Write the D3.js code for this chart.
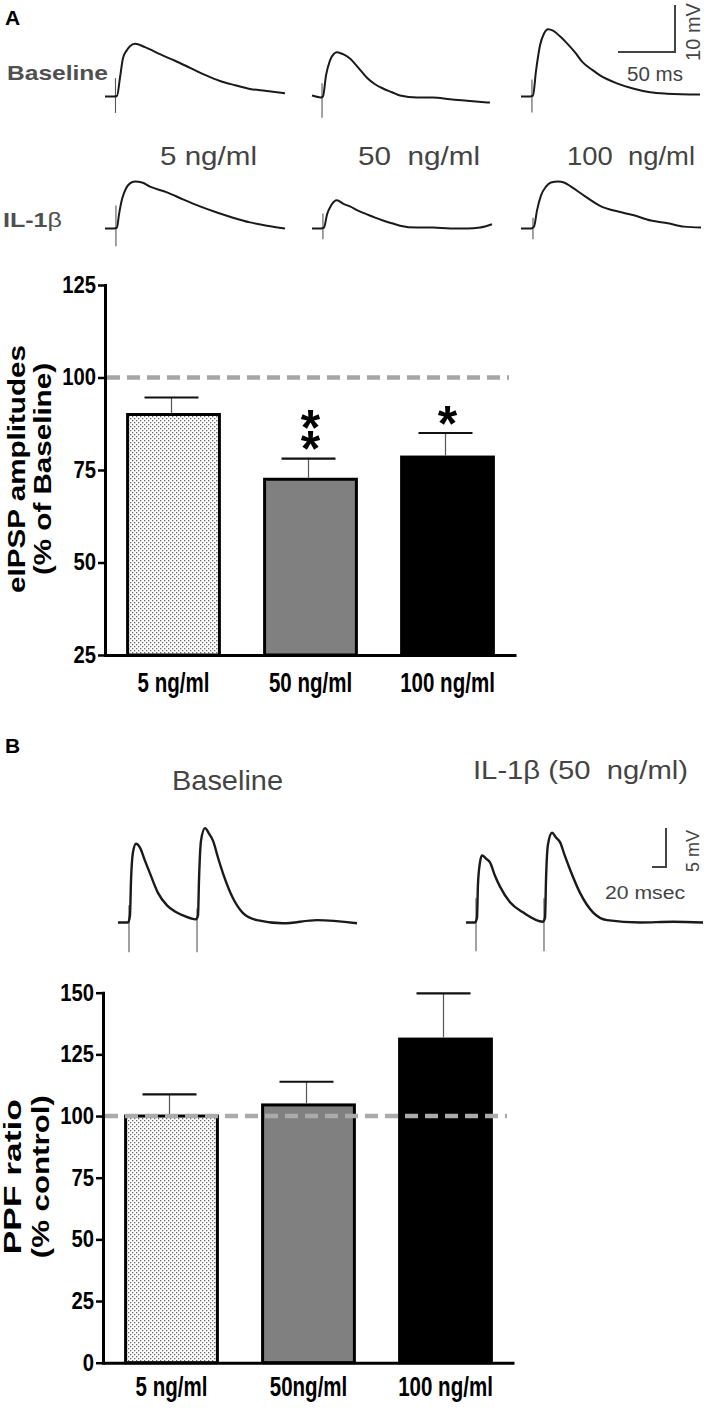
<!DOCTYPE html>
<html><head><meta charset="utf-8">
<script src="https://cdn.jsdelivr.net/npm/d3@7"></script>
<style>
body{margin:0;background:#fff;}
svg{display:block;}
text{font-family:"Liberation Sans",Arial,Helvetica,sans-serif;}
</style></head><body>
<svg id="chart" width="707" height="1410"></svg>
<script>
// ---------------- data ----------------
const categoriesA = ["5 ng/ml", "50 ng/ml", "100 ng/ml"];
const meansA = [90, 72.5, 78.5];
const semA = [4.6, 5.6, 6.5];
const sigA = ["", "**", "*"];
const ticksA = [25, 50, 75, 100, 125];

const categoriesB = ["5 ng/ml", "50ng/ml", "100 ng/ml"];
const meansB = [100, 104.5, 131.2];
const semB = [8.8, 9.4, 18.5];
const ticksB = [0, 25, 50, 75, 100, 125, 150];

const referenceLevel = 100;
const concLabelsA = ["5 ng/ml", "50  ng/ml", "100  ng/ml"];

// example traces: [time (ms), voltage (mV)] relative to trace start / baseline
const traceBase5 = [[0,0],[7.9,0],[10.5,0.1],[13.2,4.1],[15.8,8.2],[19.3,9.9],[21.9,10.7],[26.3,11.2],[35.1,10.5],[48.2,9.0],[61.4,7.6],[74.6,6.1],[87.7,4.6],[100.9,3.3],[114.0,2.4],[127.2,1.6],[140.4,1.2],[157.9,0.7]];
const traceBase50 = [[0,0.2],[7.9,-0.2],[9.6,0],[12.3,4.5],[15.8,7.7],[19.3,9.1],[21.9,9.4],[27.2,9.0],[33.3,8.1],[40.4,6.2],[48.2,4.0],[55.3,2.6],[62.3,1.7],[70.2,0.9],[77.2,0.2],[92.1,-0.2],[106.1,-0.2],[121.1,-0.6],[136.0,-0.9],[156.1,-1.3]];
const traceBase100 = [[0,0],[7.9,0],[10.5,0.2],[13.2,5.5],[16.7,10.9],[20.2,13.4],[23.7,14.3],[28.1,14.0],[34.2,12.8],[40.4,11.3],[47.4,9.4],[54.4,7.2],[62.3,5.7],[69.3,4.5],[84.2,2.8],[98.2,1.7],[113.2,0.9],[128.1,0.6],[157.0,0.4]];
const traceIL5 = [[0,0],[7.9,0],[10.5,0.2],[12.3,3.0],[14.9,6.2],[18.4,8.5],[21.9,9.6],[26.3,10.0],[32.5,9.8],[39.5,8.9],[54.4,7.7],[68.4,6.2],[83.3,4.7],[98.2,3.4],[112.3,2.3],[127.2,1.3],[142.1,0.6],[157.9,0]];
const traceIL50 = [[0,0],[7.9,0],[10.5,0.2],[13.2,3.0],[16.7,4.9],[21.9,6.0],[27.2,5.3],[33.3,4.7],[40.4,3.8],[48.2,3.0],[55.3,2.3],[62.3,1.7],[70.2,1.1],[77.2,0.6],[92.1,0.2],[106.1,0.2],[121.1,0],[136.0,0],[147.4,0.2],[157.9,0.9]];
const traceIL100 = [[0,0],[8.8,0],[11.4,0.4],[14.0,3.8],[17.5,7.0],[21.9,8.9],[26.3,9.8],[32.5,10.0],[37.7,9.8],[43.9,8.9],[55.3,7.0],[70.2,4.7],[85.1,3.6],[99.1,2.8],[114.0,1.7],[128.9,1.1],[143.0,0.4],[157.9,0.2]];
// stimulus artifacts: [time ms, up mV, down mV]
const artBase5 = [[9.2,3.9,-3.5]];
const artBase50 = [[8.8,2.8,-4.5]];
const artBase100 = [[9.6,3.6,-3.4]];
const artIL5 = [[9.6,4.9,-3.8]];
const artIL50 = [[9.6,3.2,-2.3]];
const artIL100 = [[10.5,2.3,-2.3]];

const tracePPFBase = [[0,0],[14.3,0],[17.1,0.9],[18.6,5.4],[21.4,9.0],[25.7,10.1],[31.4,9.6],[38.6,7.9],[45.7,6.3],[57.1,3.8],[70.0,2.2],[81.4,1.4],[92.9,0.9],[111.4,0.4],[114.3,0.9],[115.7,5.4],[118.6,10.5],[124.3,12.1],[130,11.4],[135.7,10.5],[142.9,8.3],[150,6.3],[164.3,3.1],[178.6,1.2],[198.6,0.3],[235.7,-0.1],[284.3,0.3],[341.4,-0.1]];
const tracePPFIL = [[0,0],[12.9,0],[15.7,0.6],[17.1,4.9],[20,7.7],[22.9,8.6],[28.6,8.2],[34.3,7.7],[41.4,6.0],[48.6,4.6],[62.9,2.6],[81.4,1.3],[110,0.1],[112.9,0.6],[114.3,5.5],[117.1,10],[122.9,11.5],[128.6,10.9],[134.3,10.3],[141.4,8.5],[148.6,6.8],[162.9,3.8],[181.4,1.3],[201.4,0.3],[248.6,0],[295.7,0.1],[338.6,0]];
const artPPFBase = [[15.7,2.2,-3.8],[112.9,1.8,-3.8]];
const artPPFIL = [[14.3,3.1,-3.7],[111.4,3.1,-3.7]];

const scaleBarA = {ms: 50, mV: 10, msLabel: "50 ms", mVLabel: "10 mV"};
const scaleBarB = {ms: 20, mV: 5, msLabel: "20 msec", mVLabel: "5 mV"};

// ---------------- drawing ----------------
const svg = d3.select("#chart");
const FONT = '"Liberation Sans",Arial,Helvetica,sans-serif';

function fitFactor(sel, f) {
  sel.each(function () {
    const w = this.getComputedTextLength();
    this.setAttribute("textLength", w * f);
    this.setAttribute("lengthAdjust", "spacingAndGlyphs");
  });
}
function fitWidth(sel, w) {
  sel.attr("textLength", w).attr("lengthAdjust", "spacingAndGlyphs");
}

const defs = svg.append("defs");
const pat = defs.append("pattern").attr("id", "dots")
  .attr("width", 4).attr("height", 4).attr("patternUnits", "userSpaceOnUse");
pat.append("rect").attr("width", 4).attr("height", 4).attr("fill", "#fff");
pat.append("rect").attr("x", 0).attr("y", 0).attr("width", 1.3).attr("height", 1.3).attr("fill", "#6a6a6a");
pat.append("rect").attr("x", 2).attr("y", 2).attr("width", 1.3).attr("height", 1.3).attr("fill", "#6a6a6a");
const barFills = ["url(#dots)", "#808080", "#000000"];

// ---- traces ----
function drawTrace(pts, arts, x0, y0, kx, ky, sw) {
  const x = d3.scaleLinear().domain([0, 1]).range([x0, x0 + kx]);
  const y = d3.scaleLinear().domain([0, 1]).range([y0, y0 - ky]);
  arts.forEach(a => {
    svg.append("line").attr("x1", x(a[0])).attr("x2", x(a[0]))
      .attr("y1", y(a[1])).attr("y2", y(a[2]))
      .attr("stroke", "#555").attr("stroke-width", 1.1);
  });
  svg.append("path").datum(pts)
    .attr("d", d3.line().x(d => x(d[0])).y(d => y(d[1])).curve(d3.curveMonotoneX))
    .attr("fill", "none").attr("stroke", "#1a1a1a").attr("stroke-width", sw)
    .attr("stroke-linejoin", "round");
}
// panel A: 1.14 px/ms, 4.7 px/mV
const kxA = 1.14, kyA = 4.7;
const colX = [105, 312, 521];
const rowY = [96.5, 228.5];
[[traceBase5, artBase5], [traceBase50, artBase50], [traceBase100, artBase100]].forEach((t, i) =>
  drawTrace(t[0], t[1], colX[i], rowY[0], kxA, kyA, 2));
[[traceIL5, artIL5], [traceIL50, artIL50], [traceIL100, artIL100]].forEach((t, i) =>
  drawTrace(t[0], t[1], colX[i], rowY[1], kxA, kyA, 2));

// panel B: 0.7 px/ms, 7.8 px/mV
const kxB = 0.7, kyB = 7.8;
drawTrace(tracePPFBase, artPPFBase, 118, 922.5, kxB, kyB, 2.4);
drawTrace(tracePPFIL, artPPFIL, 466, 922.5, kxB, kyB, 2.4);

// scale bars
function scaleBar(sb, cx, cy, kx, ky) {
  const w = sb.ms * kx, h = sb.mV * ky;
  svg.append("path").attr("d", `M${cx - w},${cy}H${cx}V${cy - h}`)
    .attr("fill", "none").attr("stroke", "#444").attr("stroke-width", 2);
}
scaleBar(scaleBarA, 675, 52, kxA, kyA);
svg.append("text").attr("x", 627).attr("y", 81).attr("font-size", 20).attr("fill", "#444")
  .text(scaleBarA.msLabel).call(fitWidth, 56);
svg.append("text").attr("transform", "translate(700,32) rotate(-90)").attr("text-anchor", "middle")
  .attr("font-size", 20).attr("fill", "#444").text(scaleBarA.mVLabel);
scaleBar(scaleBarB, 666, 867, kxB, kyB);
svg.append("text").attr("x", 605).attr("y", 899).attr("font-size", 18).attr("fill", "#444")
  .text(scaleBarB.msLabel).call(fitWidth, 80);
svg.append("text").attr("transform", "translate(699,851) rotate(-90)").attr("text-anchor", "middle")
  .attr("font-size", 18).attr("fill", "#444").text(scaleBarB.mVLabel);

// top labels
svg.append("text").attr("x", 5).attr("y", 25).attr("font-size", 21).attr("font-weight", "bold").text("A");
svg.append("text").attr("x", 5).attr("y", 753).attr("font-size", 21).attr("font-weight", "bold").text("B");
svg.append("text").attr("x", 7).attr("y", 80).attr("font-size", 21).attr("font-weight", "bold")
  .attr("fill", "#505050").text("Baseline").call(fitWidth, 101);
const il = svg.append("text").attr("x", 3).attr("y", 227).attr("font-size", 21).attr("fill", "#505050");
il.append("tspan").attr("font-weight", "bold").text("IL-1");
il.append("tspan").text("β");
il.call(fitWidth, 59);
const concX = [160, 358, 567], concW = [97, 122, 128];
concLabelsA.forEach((c, i) => {
  svg.append("text").attr("x", concX[i]).attr("y", 165).attr("font-size", 25).attr("fill", "#444")
    .style("white-space", "pre").text(c).call(fitWidth, concW[i]);
});
svg.append("text").attr("x", 172).attr("y", 790).attr("font-size", 28).attr("fill", "#444")
  .text("Baseline").call(fitWidth, 111);
svg.append("text").attr("x", 473).attr("y", 779).attr("font-size", 26).attr("fill", "#444")
  .style("white-space", "pre").text("IL-1β (50  ng/ml)").call(fitWidth, 215);

// ---- bar charts ----
function barChart(opt) {
  const g = svg.append("g");
  const x = d3.scaleBand().domain(opt.cats).range([opt.x0, opt.x0 + 411]).paddingInner(0.33).paddingOuter(0.165);
  const y = d3.scaleLinear().domain(opt.domain).range([opt.yBottom, opt.yTop]);
  // bars
  g.selectAll("rect.bar").data(opt.means).enter().append("rect")
    .attr("x", (d, i) => x(opt.cats[i]))
    .attr("y", d => y(d))
    .attr("width", x.bandwidth())
    .attr("height", d => y(opt.domain[0]) - y(d))
    .attr("fill", (d, i) => barFills[i])
    .attr("stroke", "#000").attr("stroke-width", 3);
  // error bars
  opt.means.forEach((m, i) => {
    const cx = x(opt.cats[i]) + x.bandwidth() / 2 - 2;
    g.append("line").attr("x1", cx).attr("x2", cx).attr("y1", y(m) - 1.5).attr("y2", y(m + opt.sem[i]))
      .attr("stroke", "#555").attr("stroke-width", 1.2);
    g.append("line").attr("x1", cx - 27).attr("x2", cx + 27).attr("y1", y(m + opt.sem[i])).attr("y2", y(m + opt.sem[i]))
      .attr("stroke", "#111").attr("stroke-width", 2.2);
    if (opt.sig && opt.sig[i]) {
      // asterisks stacked vertically inside a single vertical text run
      const n = opt.sig[i].length;
      const bottomCenter = y(m + opt.sem[i]) - 21;
      const topCenter = bottomCenter - 22 * (n - 1);
      g.append("text")
        .attr("x", cx + 2).attr("y", topCenter - 16)
        .style("writing-mode", "vertical-rl").style("text-orientation", "upright")
        .style("letter-spacing", "-35px")
        .attr("font-size", 50).attr("font-weight", "bold").text(opt.sig[i]);
    }
  });
  // axes
  const ay = g.append("g").attr("transform", `translate(${opt.x0},0)`)
    .call(d3.axisLeft(y).tickValues(opt.ticks).tickSize(7).tickSizeOuter(0).tickPadding(2));
  ay.select(".domain").attr("stroke-width", 3).attr("stroke-linecap", "square");
  ay.selectAll(".tick line").attr("stroke-width", 2.5);
  ay.selectAll(".tick text").attr("font-size", 23).attr("font-weight", "bold")
    .attr("font-family", FONT).attr("fill", "#000").call(fitFactor, 0.88);
  const ax = g.append("g").attr("transform", `translate(0,${opt.yBottom})`)
    .call(d3.axisBottom(x).tickSize(0).tickSizeOuter(0).tickPadding(opt.labPad));
  ax.select(".domain").attr("stroke-width", 3);
  ax.selectAll(".tick text").attr("font-size", 27).attr("font-weight", "bold")
    .attr("font-family", FONT).attr("fill", "#000").call(fitFactor, 0.76);
  // reference line at 100 %
  g.append("line").attr("x1", opt.x0 + 2).attr("x2", opt.x0 + 404)
    .attr("y1", y(referenceLevel)).attr("y2", y(referenceLevel))
    .attr("stroke", opt.refColor).attr("stroke-width", 4.5).attr("stroke-dasharray", "13,7");
  // y label
  opt.ylab.forEach((t, i) => {
    g.append("text").attr("transform", `translate(${opt.ylabX[i]},${(opt.yTop + opt.yBottom) / 2 - 1}) rotate(-90)`)
      .attr("text-anchor", "middle").attr("font-size", 23).attr("font-weight", "bold").text(t)
      .call(fitWidth, opt.ylabW[i]);
  });
}

barChart({cats: categoriesA, means: meansA, sem: semA, sig: sigA, ticks: ticksA, domain: [25, 125],
  x0: 105, yTop: 285, yBottom: 655, labPad: 18, refColor: "#a6a6a6",
  ylab: ["eIPSP amplitudes", "(% of Baseline)"], ylabX: [25, 51], ylabW: [248, 212]});
barChart({cats: categoriesB, means: meansB, sem: semB, sig: null, ticks: ticksB, domain: [0, 150],
  x0: 103, yTop: 992.7, yBottom: 1362.7, labPad: 14, refColor: "#ababab",
  ylab: ["PPF ratio", "(% control)"], ylabX: [21, 49], ylabW: [155, 163]});
</script>
</body></html>
